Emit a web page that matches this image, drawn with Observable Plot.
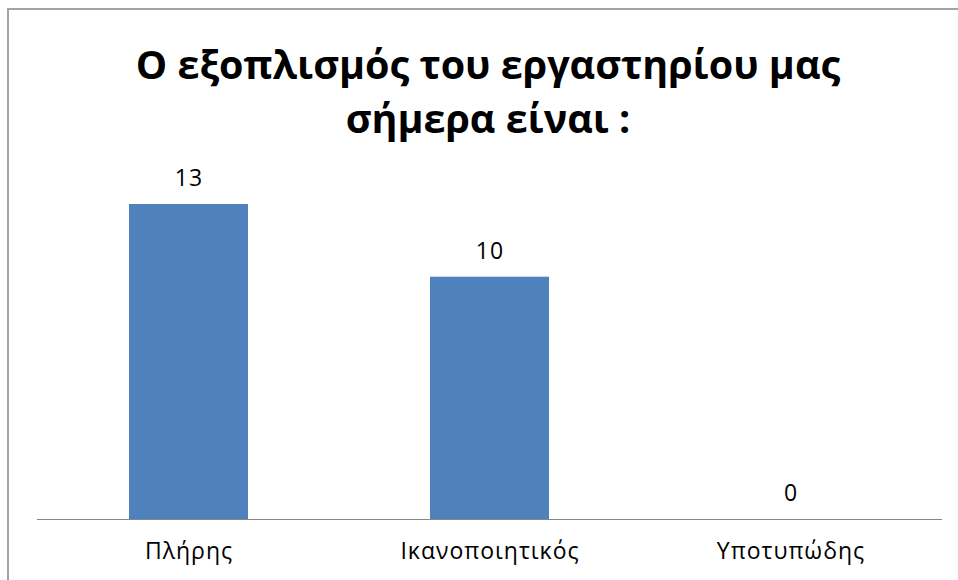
<!DOCTYPE html>
<html>
<head>
<meta charset="utf-8">
<script src="https://cdn.jsdelivr.net/npm/d3@7"></script>
<script src="https://cdn.jsdelivr.net/npm/@observablehq/plot@0.6"></script>
<style>
  html, body { margin: 0; padding: 0; background: #fff; }
  #wrap { position: relative; width: 958px; height: 580px; overflow: hidden; font-family: "Open Sans", sans-serif; }
  #frame { position: absolute; left: 7px; top: 8px; width: 1000px; height: 700px; border-top: 2px solid #a3a3a3; border-left: 2px solid #a3a3a3; }
  #title { position: absolute; left: 0; top: 37px; width: 976px; text-align: center; font-weight: 700; font-size: 39.5px; line-height: 54px; color: #000; z-index: 2; }
  #chart { position: absolute; left: 0; top: 0; }
  #chart text { letter-spacing: 1px; }
</style>
</head>
<body>
<div id="wrap">
  <div id="frame"></div>
  <div id="title">Ο εξοπλισμός του εργαστηρίου μας<br>σήμερα είναι :</div>
  <div id="chart"></div>
</div>
<script>
const categories = ["Πλήρης", "Ικανοποιητικός", "Υποτυπώδης"];
const values = [13, 10, 0];
const data = categories.map((c, i) => ({category: c, value: values[i]}));

const chart = Plot.plot({
  width: 958,
  height: 580,
  marginLeft: 37,
  marginRight: 16,
  marginTop: 204,
  marginBottom: 61,
  style: {background: "transparent", fontFamily: "Open Sans, sans-serif", color: "#000"},
  x: {domain: categories, paddingInner: 0.6056, paddingOuter: 0.303, label: null},
  y: {domain: [0, 13], axis: null},
  marks: [
    Plot.barY(data, {x: "category", y: "value", fill: "#4f81bd"}),
    Plot.ruleY([0], {stroke: "#868686", strokeWidth: 1.2}),
    Plot.text(data, {x: "category", y: "value", text: d => String(d.value), dy: -26, fontSize: 23, fill: "#000"}),
    Plot.axisX({tickSize: 0, tickPadding: 23, fontSize: 23, label: null, fill: "#000"})
  ]
});
document.getElementById("chart").appendChild(chart);
</script>
</body>
</html>
